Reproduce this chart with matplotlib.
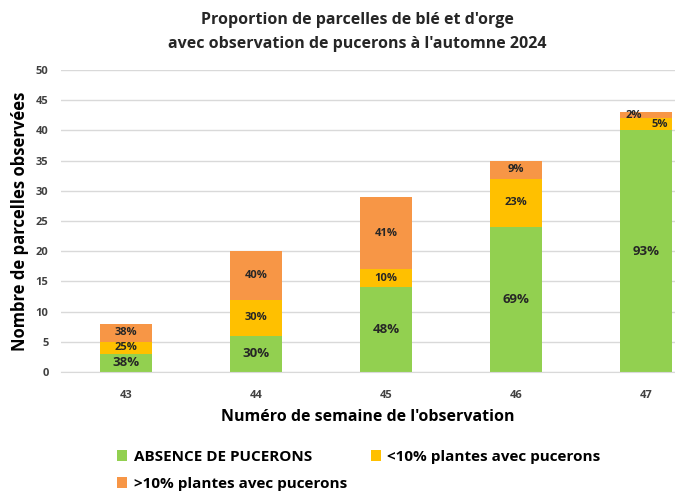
import matplotlib.pyplot as plt
import numpy as np

plt.rcParams['font.family'] = ['Open Sans', 'DejaVu Sans']

semaines = ['43', '44', '45', '46', '47']
absence = [3, 6, 14, 24, 40]
moins10 = [2, 6, 3, 8, 2]
plus10 = [3, 8, 12, 3, 1]
noms = ['ABSENCE DE PUCERONS', '<10% plantes avec pucerons', '>10% plantes avec pucerons']
couleurs = ['#92D050', '#FFC000', '#F79646']

x = np.arange(len(semaines))
totaux = np.array(absence) + np.array(moins10) + np.array(plus10)

fig = plt.figure(figsize=(6.75, 4.93), dpi=100)
ax = fig.add_axes([0.0904, 0.2454, 0.9096, 0.6126])

bas = np.zeros(len(x))
for serie, nom, c, fs in zip([absence, moins10, plus10], noms, couleurs, [9.5, 8, 8]):
    v = np.array(serie, dtype=float)
    ax.bar(x, v, 0.4, bottom=bas, color=c, label=nom, zorder=2)
    for i in range(len(x)):
        pct = int(v[i] / totaux[i] * 100 + 0.5)
        xi = x[i]
        if semaines[i] == '47' and c != couleurs[0]:
            xi = xi + (0.1 if c == couleurs[1] else -0.1)
        ax.text(xi, bas[i] + v[i] / 2, f'{pct}%', ha='center', va='center',
                fontsize=fs, fontweight='bold', color='#262626', zorder=3)
    bas += v

ax.set_ylim(0, 50)
ax.set_xlim(-0.5, 4.22)
ax.set_yticks(range(0, 51, 5))
ax.set_xticks(x)
ax.set_xticklabels(semaines)
ax.tick_params(length=0, labelsize=8, colors='#404040')
ax.tick_params(axis='x', pad=13)
ax.tick_params(axis='y', pad=9)
for lab in ax.get_xticklabels() + ax.get_yticklabels():
    lab.set_fontweight('bold')
ax.yaxis.grid(True, color='#d9d9d9', linewidth=1, zorder=0)
for s in ['top', 'right', 'left']:
    ax.spines[s].set_visible(False)
ax.spines['bottom'].set_color('#d9d9d9')

ax.set_xlabel("Numéro de semaine de l'observation", fontsize=11.5, fontweight='bold', labelpad=6)
ax.set_ylabel('Nombre de parcelles observées', fontsize=12, fontweight='bold', labelpad=5)
fig.text(0.53, 0.935, "Proportion de parcelles de blé et d'orge\navec observation de pucerons à l'automne 2024",
         ha='center', va='center', fontsize=11.5, fontweight='bold', linespacing=1.6, color='#262626')

h, l = ax.get_legend_handles_labels()
ordre = [0, 2, 1]
fig.legend([h[k] for k in ordre], [l[k] for k in ordre], loc='upper left',
           bbox_to_anchor=(0.165, 0.1), ncol=2, frameon=False,
           prop={'weight': 'bold', 'size': 11}, handlelength=0.65, handleheight=0.65,
           handletextpad=0.4, columnspacing=1.6, labelspacing=0.85, borderaxespad=0)

fig.savefig('out.png', dpi=100)
